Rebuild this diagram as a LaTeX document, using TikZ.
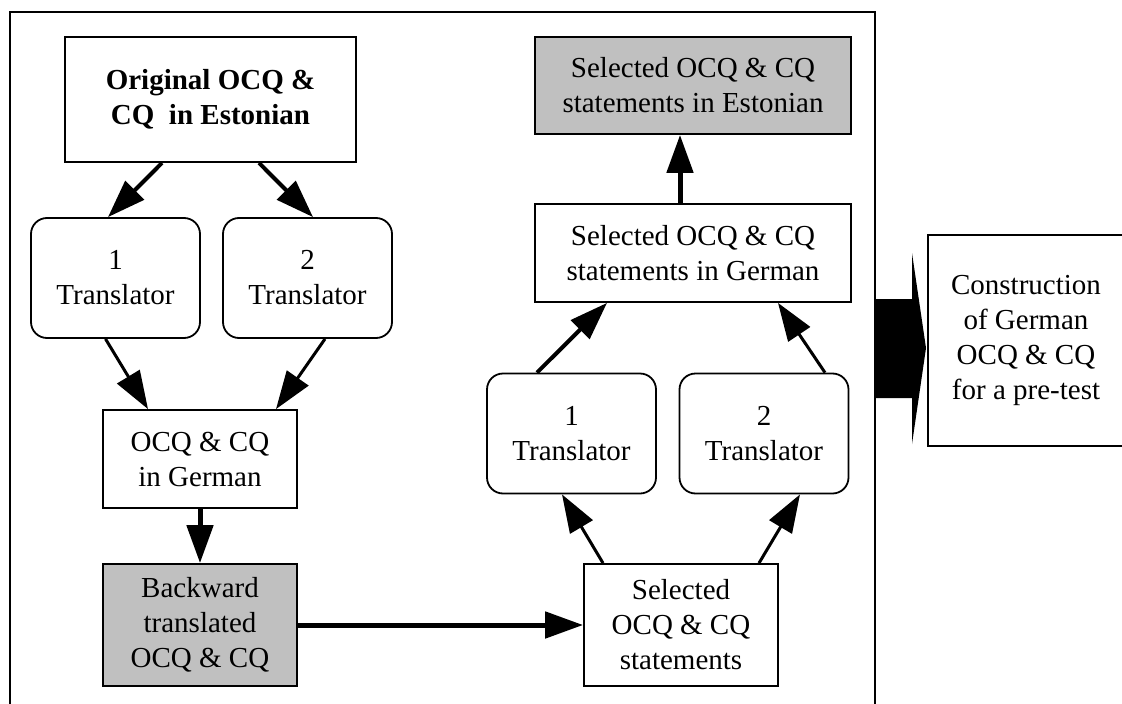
\documentclass[tikz,border=0pt]{standalone}
\usepackage{fontspec}
\setmainfont{Liberation Serif}
\usetikzlibrary{arrows.meta}
\definecolor{boxgray}{HTML}{C0C0C0}
\begin{document}
\begin{tikzpicture}[x=1pt, y=-1pt,
    box/.style={draw, line width=1.8pt, align=center, inner sep=0pt,
        font=\fontsize{29}{35}\selectfont},
    transl/.style={box, rounded corners=16pt, minimum width=169pt, minimum height=120pt},
    conn/.style={line width=3pt, -{Triangle[length=38pt, width=26pt]}},
    thickconn/.style={conn, line width=5pt}]
    \useasboundingbox (0,0) rectangle (1122,704);
    \clip (0,0) rectangle (1122,704);
    \draw[line width=1.8pt] (10,720) -- (10,12) -- (875,12) -- (875,720);
    \node [box, minimum width=291pt, minimum height=125pt, font=\fontsize{29}{35}\selectfont\bfseries]
        (orig) at (210.5,99.5) {Original OCQ \&\\CQ\ \ in Estonian};
    \node [transl] (tla) at (115.5,278) {1\\Translator};
    \node [transl] (tlb) at (307.5,278) {2\\Translator};
    \node [box, minimum width=194pt, minimum height=98pt] (german) at (200,459) {OCQ \& CQ\\in German};
    \node [box, fill=boxgray, minimum width=194pt, minimum height=122pt] (back) at (200,625) {Backward\\translated\\OCQ \& CQ};
    \node [box, minimum width=194pt, minimum height=122pt] (sel) at (681,625) {Selected\\OCQ \& CQ\\statements};
    \node [transl] (tra) at (571.5,433.5) {1\\Translator};
    \node [transl] (trb) at (764,433.5) {2\\Translator};
    \node [box, minimum width=316pt, minimum height=98pt] (selger) at (693,253) {Selected OCQ \& CQ\\statements in German};
    \node [box, fill=boxgray, minimum width=316pt, minimum height=97pt] (selest) at (693,85.5) {Selected OCQ \& CQ\\statements in Estonian};
    \node [box, minimum width=196pt, minimum height=211pt] (constr) at (1026,340.5) {Construction\\of German\\OCQ \& CQ\\for a pre-test};
    \draw[conn, line width=4pt] ([xshift=-48.5pt]orig.south) -- ([xshift=-7.5pt]tla.north);
    \draw[conn, line width=4pt] ([xshift=48.5pt]orig.south) -- ([xshift=5.5pt]tlb.north);
    \draw[conn] ([xshift=-10pt]tla.south) -- ([xshift=-52pt]german.north);
    \draw[conn] ([xshift=17.5pt]tlb.south) -- ([xshift=76pt]german.north);
    \draw[thickconn] (german) -- (back);
    \draw[thickconn] (back) -- (sel);
    \draw[conn] ([xshift=-78pt]sel.north) -- ([xshift=-9.5pt]tra.south);
    \draw[conn] ([xshift=78pt]sel.north) -- ([xshift=36pt]trb.south);
    \draw[conn, line width=4pt] ([xshift=-34.5pt]tra.north) -- ([xshift=-86pt]selger.south);
    \draw[conn] ([xshift=61pt]trb.north) -- ([xshift=85pt]selger.south);
    \draw[thickconn] ([xshift=-13pt]selger.north) -- ([xshift=-13pt]selest.south);
    \fill (875,299) -- (912,299) -- (912,253) -- (926,348) -- (912,444) -- (912,398) -- (875,398) -- cycle;
\end{tikzpicture}
\end{document}
